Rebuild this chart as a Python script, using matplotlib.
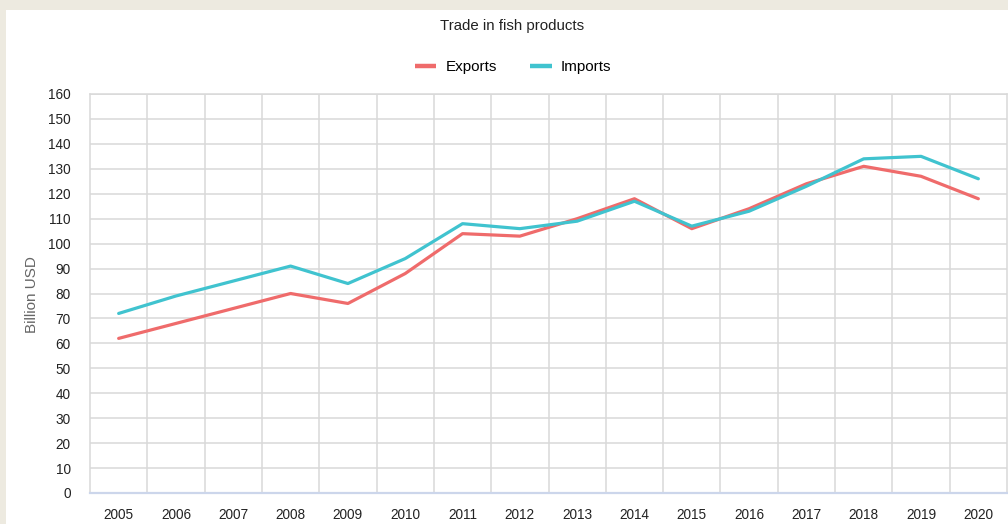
import matplotlib.pyplot as plt
from matplotlib.patches import Rectangle
import numpy as np

plt.rcParams['font.family'] = ['Liberation Sans', 'DejaVu Sans']

# Trade in fish products, billion USD
years = ['2005', '2006', '2007', '2008', '2009', '2010', '2011', '2012',
         '2013', '2014', '2015', '2016', '2017', '2018', '2019', '2020']
exports = [62, 68, 74, 80, 76, 88, 104, 103, 110, 118, 106, 114, 124, 131, 127, 118]
imports = [72, 79, 85, 91, 84, 94, 108, 106, 109, 117, 107, 113, 123, 134, 135, 126]

W, H = 1008, 524
fig = plt.figure(figsize=(W / 100, H / 100), dpi=100, facecolor='#EDEAE0')

# white card on the beige page, kept behind the axes
fig.patches.append(Rectangle((6 / W, 0), 1 - 6 / W, 1 - 10 / H,
                             transform=fig.transFigure, facecolor='white',
                             edgecolor='none', zorder=-10))

ax = fig.add_axes([90 / W, 31 / H, (1007 - 90) / W, (493 - 94) / H])
ax.set_facecolor('none')

x = np.arange(len(years))
ax.plot(x, exports, color='#EF6B6B', lw=2.3, label='Exports', solid_capstyle='round', zorder=3)
ax.plot(x, imports, color='#40C3CF', lw=2.3, label='Imports', solid_capstyle='round', zorder=3)

ax.set_xlim(-0.5, len(years) - 0.5)
ax.set_ylim(0, 160)
ax.set_yticks(np.arange(0, 161, 10))
ax.set_xticks(x)
ax.set_xticklabels(years)
ax.set_xticks(x[:-1] + 0.5, minor=True)

grid_c = '#D9D9D9'
ax.grid(axis='y', which='major', color=grid_c, lw=1.1)
ax.grid(axis='x', which='minor', color=grid_c, lw=1.1)
ax.grid(axis='x', which='major', visible=False)
ax.set_axisbelow(True)

for side in ['left', 'right', 'top']:
    ax.spines[side].set_color(grid_c)
    ax.spines[side].set_linewidth(1.1)
ax.spines['bottom'].set_color('#CCD6EB')
ax.spines['bottom'].set_linewidth(1.6)

ax.tick_params(axis='both', which='both', length=0, labelsize=9.8, colors='#222222')
ax.tick_params(axis='y', pad=14)
ax.tick_params(axis='x', pad=11)

fig.text(32 / W, 1 - 295 / H, 'Billion USD', rotation=90, ha='center', va='center',
         fontsize=11, color='#666666')

fig.text(512 / W, 1 - 26 / H, 'Trade in fish products', ha='center', va='center',
         fontsize=10.8, color='#222222')

leg = fig.legend(loc='center', bbox_to_anchor=(513 / W, 1 - 67 / H), ncol=2, frameon=False,
                 fontsize=11, handlelength=1.4, handletextpad=0.6, columnspacing=2.2)
for h in leg.get_lines():
    h.set_linewidth(3.2)
    h.set_solid_capstyle('butt')

fig.savefig('out.png', dpi=100, facecolor=fig.get_facecolor())
